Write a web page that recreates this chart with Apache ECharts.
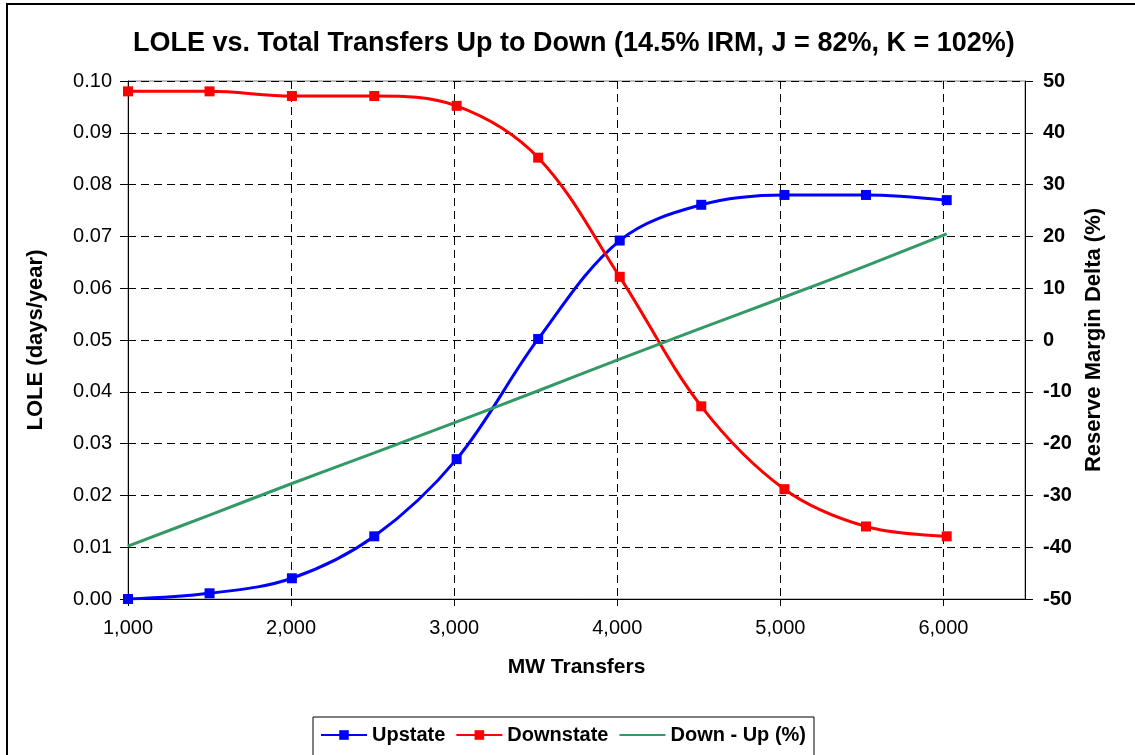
<!DOCTYPE html>
<html>
<head>
<meta charset="utf-8">
<script src="https://cdn.jsdelivr.net/npm/echarts@6/dist/echarts.min.js"></script>
<style>
html,body{margin:0;padding:0;background:#fff;}
#chart{width:1135px;height:755px;}
</style>
</head>
<body>
<div id="chart"></div>
<script>
// MW transfer points
const transfers = [1000, 1500, 2005, 2510, 3015, 3515, 4015, 4515, 5025, 5525, 6020];
// LOLE (days/year), left axis
const upstate   = [0.0000, 0.0011, 0.0040, 0.0121, 0.0270, 0.0502, 0.0692, 0.0761, 0.0780, 0.0780, 0.0770];
const downstate = [0.0980, 0.0980, 0.0971, 0.0971, 0.0952, 0.0852, 0.0622, 0.0372, 0.0212, 0.0140, 0.0121];
// Reserve margin delta (%), right axis
const downMinusUp = [-39.8, -33.8, -27.7, -21.8, -15.8, -9.8, -3.7, 2.3, 8.3, 14.3, 20.5];
// x tick labels
const xTickValues = [1000, 2000, 3000, 4000, 5000, 6000];
const seriesNames = ['Upstate', 'Downstate', 'Down - Up (%)'];

const FONT = '"Liberation Sans", Arial, sans-serif';
const pairs = ys => transfers.map((x, i) => [x, ys[i]]);
const gridDash = { color: '#000', width: 1, type: [8, 5] };

const chart = echarts.init(document.getElementById('chart'), null, { renderer: 'canvas' });
chart.setOption({
  backgroundColor: '#fff',
  animation: false,
  textStyle: { fontFamily: FONT },
  graphic: [{
    type: 'rect', silent: true, z: -1,
    shape: { x: 7, y: 4, width: 1300, height: 900 },
    style: { fill: 'none', stroke: '#000', lineWidth: 2 }
  }],
  title: {
    text: 'LOLE vs. Total Transfers Up to Down (14.5% IRM, J = 82%, K = 102%)',
    left: 133, top: 30, padding: 0,
    textStyle: { fontFamily: FONT, fontSize: 27, fontWeight: 'bold', color: '#000' }
  },
  legend: {
    data: [
      { name: seriesNames[0] },
      { name: seriesNames[1] },
      { name: seriesNames[2], itemStyle: { opacity: 0 } }
    ],
    left: 313, top: 717,
    padding: [8, 8, 30, 7],
    itemGap: 10, itemWidth: 46, itemHeight: 12,
    borderColor: '#000', borderWidth: 1,
    textStyle: { fontFamily: FONT, fontSize: 20, fontWeight: 'bold', color: '#000' }
  },
  grid: {
    left: 128, right: 110, top: 81, bottom: 156,
    show: true, borderColor: '#808080', borderWidth: 1, backgroundColor: 'transparent',
    containLabel: false
  },
  xAxis: {
    type: 'value', min: 1000, max: 6500, interval: 500,
    name: 'MW Transfers', nameLocation: 'middle', nameGap: 58,
    nameTextStyle: { fontFamily: FONT, fontSize: 21, fontWeight: 'bold', color: '#000' },
    axisLine: { show: true, onZero: false, lineStyle: { color: '#000', width: 1 } },
    axisTick: { show: true, length: 7, customValues: xTickValues, lineStyle: { color: '#000' } },
    axisLabel: {
      customValues: xTickValues, margin: 19,
      fontFamily: FONT, fontSize: 20, color: '#000',
      formatter: v => Number(v).toLocaleString('en-US')
    },
    splitLine: { show: true, lineStyle: gridDash },
    minorTick: { show: false }, minorSplitLine: { show: false }
  },
  yAxis: [{
    type: 'value', min: 0, max: 0.1, interval: 0.01, position: 'left',
    name: 'LOLE (days/year)', nameLocation: 'middle', nameGap: 81, nameRotate: 90,
    nameTextStyle: { fontFamily: FONT, fontSize: 22, fontWeight: 'bold', color: '#000' },
    axisLine: { show: true, lineStyle: { color: '#000', width: 1 } },
    axisTick: { show: true, length: 8, lineStyle: { color: '#000' } },
    axisLabel: { margin: 16, fontFamily: FONT, fontSize: 20, color: '#000', formatter: v => v.toFixed(2) },
    splitLine: { show: true, lineStyle: gridDash }
  }, {
    type: 'value', min: -50, max: 50, interval: 10, position: 'right',
    name: 'Reserve Margin Delta (%)', nameLocation: 'middle', nameGap: 58, nameRotate: 90,
    nameTextStyle: { fontFamily: FONT, fontSize: 22, fontWeight: 'bold', color: '#000' },
    axisLine: { show: true, lineStyle: { color: '#000', width: 1 } },
    axisTick: { show: true, length: 8, lineStyle: { color: '#000' } },
    axisLabel: { margin: 18, fontFamily: FONT, fontSize: 20, fontWeight: 'bold', color: '#000' },
    splitLine: { show: false }
  }],
  series: [{
    name: seriesNames[0], type: 'line', yAxisIndex: 0, data: pairs(upstate),
    smooth: 0.35, symbol: 'rect', symbolSize: 10, showAllSymbol: true,
    lineStyle: { color: '#0000FF', width: 3 }, itemStyle: { color: '#0000FF' }, z: 3
  }, {
    name: seriesNames[1], type: 'line', yAxisIndex: 0, data: pairs(downstate),
    smooth: 0.35, symbol: 'rect', symbolSize: 10, showAllSymbol: true,
    lineStyle: { color: '#FF0000', width: 3 }, itemStyle: { color: '#FF0000' }, z: 3
  }, {
    name: seriesNames[2], type: 'line', yAxisIndex: 1, data: pairs(downMinusUp),
    smooth: 0.35, symbol: 'none',
    lineStyle: { color: '#339966', width: 3 }, itemStyle: { color: '#339966' }, z: 3
  }]
});
</script>
</body>
</html>
